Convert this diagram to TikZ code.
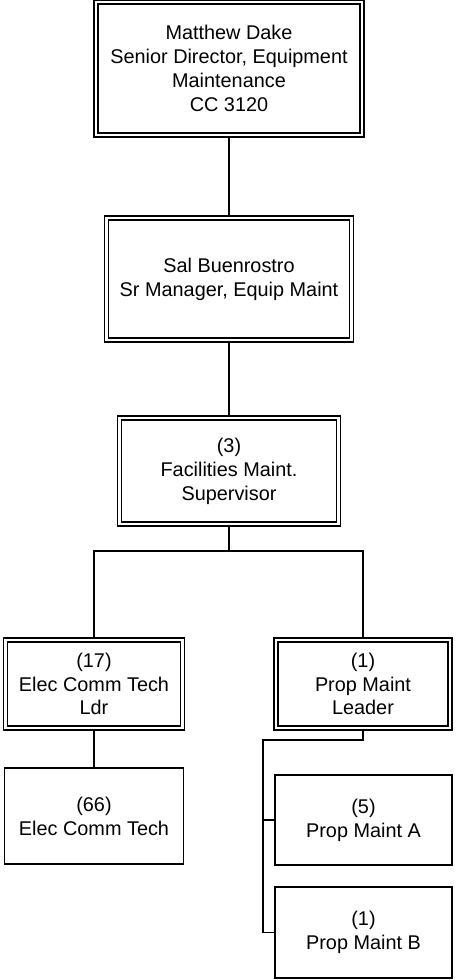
\documentclass[tikz,border=0pt]{standalone}
\usepackage{fontspec}
\setmainfont{Liberation Sans}
\usepackage{tikz}

\tikzset{
    orgtext/.style={align=center, inner sep=0pt, font=\fontsize{11.3}{13.6}\selectfont},
    dblbox/.style={orgtext, draw, line width=0.75pt, double, double distance=1.6pt},
    sglbox/.style={orgtext, draw, line width=0.8pt},
    orgline/.style={line width=0.8pt}
}

\begin{document}
\begin{tikzpicture}[x=0.02cm,y=-0.02cm]
\useasboundingbox (0,0) rectangle (456,980);

% --------------------------------------------------
% Top of the chart
% --------------------------------------------------
\node[dblbox, minimum width=5.32cm, minimum height=2.66cm] (dake) at (229,68.5)
    {Matthew Dake\\Senior Director, Equipment\\Maintenance\\CC 3120};

\node[dblbox, minimum width=4.9cm, minimum height=2.44cm] (sal) at (229,279)
    {Sal Buenrostro\\ Sr Manager, Equip Maint};

\node[dblbox, minimum width=4.38cm, minimum height=2.12cm] (sup) at (229,471)
    {(3)\\Facilities Maint.\\Supervisor};

\draw[orgline] (dake) -- (sal);
\draw[orgline] (sal) -- (sup);

% --------------------------------------------------
% Leaders
% --------------------------------------------------
\node[dblbox, minimum width=3.54cm, minimum height=1.76cm] (eldr) at (94,684)
    {(17)\\Elec Comm Tech\\Ldr};
\node[dblbox, minimum width=3.48cm, minimum height=1.76cm] (pldr) at (363,684)
    {(1)\\Prop Maint\\Leader};

\coordinate (split) at (229,551);
\draw[orgline] (sup) -- (split);
\draw[orgline] (eldr.north) |- (split) -| (pldr.north);

% --------------------------------------------------
% Staff
% --------------------------------------------------
\node[sglbox, minimum width=3.58cm, minimum height=1.92cm] (elec) at (94,816)
    {(66)\\Elec Comm Tech};
\node[sglbox, minimum width=3.54cm, minimum height=1.8cm] (pma) at (363.5,820)
    {(5)\\Prop Maint A};
\node[sglbox, minimum width=3.54cm, minimum height=1.82cm] (pmb) at (363.5,932.5)
    {(1)\\Prop Maint B};

\draw[orgline] (eldr) -- (elec);

\coordinate (pbus) at (263,740);
\draw[orgline] (pldr.south) |- (pbus) |- (pmb.west);
\draw[orgline] (pbus) |- (pma.west);

\end{tikzpicture}
\end{document}
